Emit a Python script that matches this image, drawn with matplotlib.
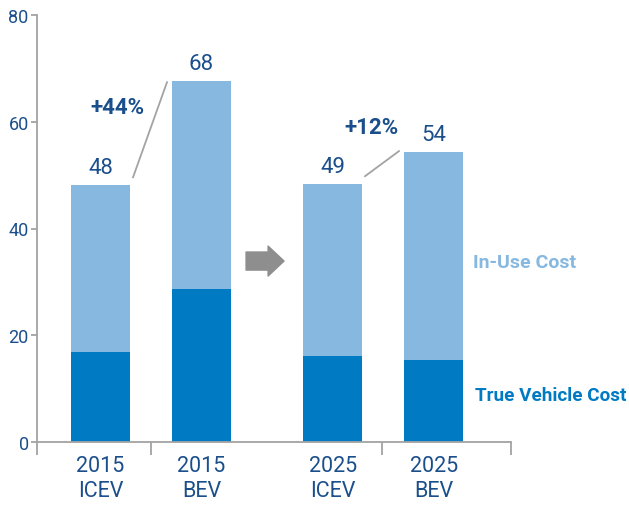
import matplotlib.pyplot as plt

# data
categories = ["2015\nICEV", "2015\nBEV", "2025\nICEV", "2025\nBEV"]
true_vehicle = [16.9, 28.6, 16.1, 15.3]
in_use = [31.2, 39.0, 32.2, 39.0]
total_labels = ["48", "68", "49", "54"]
change_labels = ["+44%", "+12%"]

# colours
light = "#86b8e0"
dark = "#007ac2"
navy = "#1b4f8c"
gray = "#a3a3a3"

plt.rcParams['font.family'] = ['Roboto', 'DejaVu Sans']

fig = plt.figure(figsize=(6.29, 5.06), dpi=100)
ax = fig.add_axes([37 / 629, 63 / 506, 474 / 629, 427 / 506])

xpos = [0, 1, 2.3, 3.3]
width = 0.584
ax.bar(xpos, true_vehicle, width, color=dark)
ax.bar(xpos, in_use, width, bottom=true_vehicle, color=light)

totals = [a + b for a, b in zip(true_vehicle, in_use)]
for x, t, lab in zip(xpos, totals, total_labels):
    ax.text(x, t + 3.4, lab, ha='center', va='center', fontsize=16, color=navy)

# category labels under the axis
for x, lab in zip(xpos, categories):
    ax.text(x, -2.5, lab, ha='center', va='top', fontsize=15.5, color=navy,
            linespacing=1.2)

# connector lines and % changes
ax.plot([0.322, 0.658], [49.6, 67.4], color=gray, lw=1.3, clip_on=False)
ax.plot([2.619, 2.955], [49.8, 54.5], color=gray, lw=1.3, clip_on=False)
ax.text(0.163, 62.8, change_labels[0], ha='center', va='center', fontsize=16,
        fontweight='bold', color=navy)
ax.text(2.678, 59.0, change_labels[1], ha='center', va='center', fontsize=16,
        fontweight='bold', color=navy)

# gray arrow between the two years
ax.annotate('', xy=(1.817, 33.9), xytext=(1.441, 33.9),
            arrowprops=dict(arrowstyle='simple,head_length=1.15,head_width=2.16,tail_width=1.3',
                            color='#8e8e8e', shrinkA=0, shrinkB=0, mutation_scale=10))

# series labels
ax.text(3.688, 33.7, "In-Use Cost", ha='left', va='center', fontsize=14,
        fontweight='bold', color=light)
ax.text(3.708, 8.8, "True Vehicle Cost", ha='left', va='center', fontsize=13.6,
        fontweight='bold', color=dark, clip_on=False)

ax.set_xlim(-0.629, 4.064)
ax.set_ylim(0, 80)
ax.set_yticks([0, 20, 40, 60, 80])
ax.set_xticks([-0.629, 0.5, 2.787, 4.064])
ax.set_xticklabels([])
ax.tick_params(axis='y', length=4, width=1.3, color=gray, labelcolor=navy,
               labelsize=13, pad=2)
ax.tick_params(axis='x', length=9, width=1.3, color=gray)
for s in ['top', 'right']:
    ax.spines[s].set_visible(False)
for s in ['left', 'bottom']:
    ax.spines[s].set_color(gray)
    ax.spines[s].set_linewidth(1.3)

fig.savefig("out.png", dpi=100)
